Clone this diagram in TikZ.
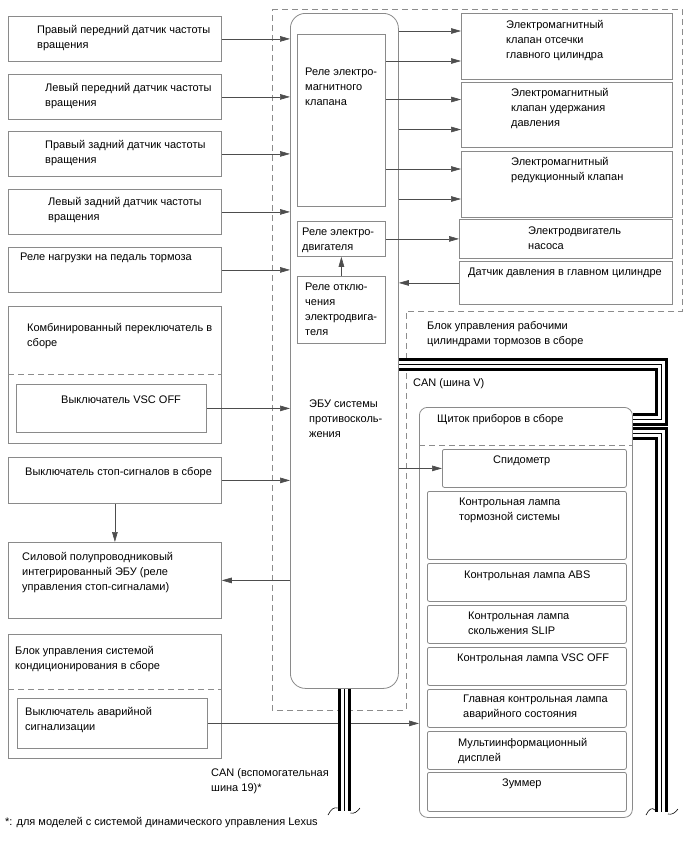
\documentclass[tikz,border=0pt]{standalone}
\usepackage{fontspec}
\setmainfont{Liberation Sans}
\usetikzlibrary{arrows.meta,positioning,calc}
\definecolor{boxline}{HTML}{8A8A8A}
\definecolor{wire}{HTML}{4D4D4D}
\definecolor{frameline}{HTML}{8C8C8C}
\tikzset{
  box/.style={draw=boxline, line width=0.8pt, anchor=north west, inner sep=0pt},
  subbox/.style={box, rounded corners=2pt},
  txt/.style={anchor=north west, inner sep=0pt, align=left,
    font=\fontsize{11}{15}\selectfont},
  arr/.style={-{Triangle[length=10pt,width=5.6pt]}, draw=wire, line width=0.6pt},
  frame/.style={draw=frameline, line width=0.7pt, dash pattern=on 6pt off 4pt},
  cable/.style={draw=black, line width=13pt,
    postaction={draw=white, line width=6.6pt},
    postaction={draw=black, line width=0.8pt}},
  cut/.style={draw=black, line width=0.6pt}
}

\begin{document}
\begin{tikzpicture}[x=1pt, y=-1pt]
  \useasboundingbox (0,0) rectangle (688,852);

  % brake actuator outline
  \draw[frame] (272,9) -| (682,311) -| (406,710) -| cycle;

  % skid control ECU
  \node[box, rounded corners=15pt, minimum width=108pt, minimum height=675pt] (ecu) at (290,13) {};
  \node[box, minimum width=88pt, minimum height=172pt] (rel1) at (297,34) {};
  \node[box, minimum width=88pt, minimum height=35pt] (rel2) at (297,221) {};
  \node[box, minimum width=88pt, minimum height=67pt] (rel3) at (297,276) {};
  \node[txt] (rel1t) at (305,68) {Реле электро-\\магнитного\\клапана};
  \node[txt] (rel2t) at (302,228) {Реле электро-\\двигателя};
  \node[txt] (rel3t) at (305,283) {Реле отклю-\\чения\\электродвига-\\теля};
  \node[txt] (ecut) at (309,400) {ЭБУ системы\\противосколь-\\жения};
  \draw[arr] (rel3.north) -- (rel2.south);

  % speed sensors, stop lamp load relay
  \foreach \n/\y/\tx/\ty/\lab in {
    1/16/37/25/{Правый передний датчик частоты\\вращения},
    2/74/45/83/{Левый передний датчик частоты\\вращения},
    3/131/45/140/{Правый задний датчик частоты\\вращения},
    4/189/48/197/{Левый задний датчик частоты\\вращения},
    5/247/20/253/{Реле нагрузки на педаль тормоза}} {
    \node[box, minimum width=213pt, minimum height=45pt] (s\n) at (8,\y) {};
    \node[txt] (sl\n) at (\tx,\ty) {\lab};
    \draw[arr] (s\n) -- (s\n -| ecu.west);
  }

  % combination switch
  \node[box, minimum width=213pt, minimum height=137pt] (comb) at (8,306) {};
  \node[txt] (combt) at (27,323) {Комбинированный переключатель в\\сборе};
  \draw[frame] (comb.west |- 0,374) -- (comb.east |- 0,374);
  \node[box, minimum width=190pt, minimum height=48pt] (vsc) at (16,384) {};
  \node[txt] (vsct) at (61,396) {Выключатель VSC OFF};
  \draw[arr] (vsc) -- (vsc -| ecu.west);

  % stop lamp switch and IPS ECU
  \node[box, minimum width=213pt, minimum height=46pt] (stop) at (8,457) {};
  \node[txt] (stopt) at (25,467) {Выключатель стоп-сигналов в сборе};
  \node[box, minimum width=213pt, minimum height=76pt] (ips) at (8,542) {};
  \node[txt] (ipst) at (22,552) {Силовой полупроводниковый\\интегрированный ЭБУ (реле\\управления стоп-сигналами)};
  \draw[arr] (stop) -- (stop -| ecu.west);
  \draw[arr] (stop.south) -- (ips.north);
  \draw[arr] (ips -| ecu.west) -- (ips);

  % air conditioning amplifier
  \node[box, minimum width=213pt, minimum height=124pt] (ac) at (8,634) {};
  \node[txt] (act) at (15,646) {Блок управления системой\\кондиционирования в сборе};
  \draw[frame] (ac.west |- 0,689) -- (ac.east |- 0,689);
  \node[box, minimum width=190pt, minimum height=50pt] (haz) at (17,698) {};
  \node[txt] (hazt) at (25,707) {Выключатель аварийной\\сигнализации};

  % solenoids, pump motor, pressure sensor
  \foreach \n/\y/\h/\tx/\ty/\lab in {
    1/13/66/506/20/{Электромагнитный\\клапан отсечки\\главного цилиндра},
    2/82/65/511/88/{Электромагнитный\\клапан удержания\\давления},
    3/151/66/511/157/{Электромагнитный\\редукционный клапан}} {
    \node[box, minimum width=211pt, minimum height=\h pt] (v\n) at (461,\y) {};
    \node[txt] (vl\n) at (\tx,\ty) {\lab};
  }
  \foreach \y/\src/\dst in {31/ecu/v1, 61/rel1/v1, 99.5/rel1/v2,
      129.5/ecu/v2, 169/rel1/v3, 199/ecu/v3}
    \draw[arr] (\src.east |- 0,\y) -- (\dst.west |- 0,\y);
  \node[box, minimum width=213pt, minimum height=39pt] (pump) at (459,219) {};
  \node[txt] (pumpt) at (528,227) {Электродвигатель\\насоса};
  \node[box, minimum width=213pt, minimum height=43pt] (press) at (459,261) {};
  \node[txt] (presst) at (468,268) {Датчик давления в главном цилиндре};
  \draw[arr] (rel2) -- (rel2 -| pump.west);
  \draw[arr] (press) -- (press -| ecu.east);
  \node[txt] (actt) at (427,321) {Блок управления рабочими\\цилиндрами тормозов в сборе};

  % combination meter
  \node[box, rounded corners=8pt, minimum width=213pt, minimum height=410pt] (meter) at (419,407) {};
  \node[txt] (metert) at (437,414) {Щиток приборов в сборе};
  \draw[frame] (meter.west |- 0,445) -- (meter.east |- 0,445);
  \node[subbox, minimum width=184pt, minimum height=38pt] (spd) at (442,449) {};
  \node[txt] (spdt) at (493,456) {Спидометр};
  \foreach \nm/\y/\h/\tx/\ty/\lab in {
    brk/491/68/459/498/{Контрольная лампа\\тормозной системы},
    abs/563/38/464/571/{Контрольная лампа ABS},
    slip/605/38/468/612/{Контрольная лампа\\скольжения SLIP},
    vscl/647/38/457/654/{Контрольная лампа VSC OFF},
    mil/689/38/463/695/{Главная контрольная лампа\\аварийного состояния},
    mid/731/38/458/738/{Мультиинформационный\\дисплей},
    buz/772/39/502/779/{Зуммер}} {
    \node[subbox, minimum width=199pt, minimum height=\h pt] (\nm) at (427,\y) {};
    \node[txt] (\nm t) at (\tx,\ty) {\lab};
  }
  \draw[arr] (spd -| ecu.east) -- (spd);
  \draw[arr] (haz) -- (haz -| meter.west);

  % CAN buses
  \draw[cable] (ecu.east |- 0,364.5) -- (661.5,364.5) -- (661.5,419.5) -- (meter.east |- 0,419.5);
  \draw[cable] (meter.east |- 0,433.5) -- (661.5,433.5) -- (661.5,812);
  \draw[cable] (ecu.south) -- ++(0,122);
  \draw[cut] (328,815) .. controls (331,809) and (334,807) .. (337.5,808);
  \draw[cut] (350.5,813) .. controls (354,814) and (357,812) .. (360,808);
  \draw[cut] (646,815) .. controls (649,809) and (652,807) .. (655,810);
  \draw[cut] (668,814) .. controls (672,815) and (675,813) .. (678,809);
  \node[txt] (cant) at (413,378) {CAN (шина V)};
  \node[txt] (can19t) at (211,768) {CAN (вспомогательная\\шина 19)*};

  \node[txt] (foot) at (5,817) {*: для моделей с системой динамического управления Lexus};
\end{tikzpicture}
\end{document}
